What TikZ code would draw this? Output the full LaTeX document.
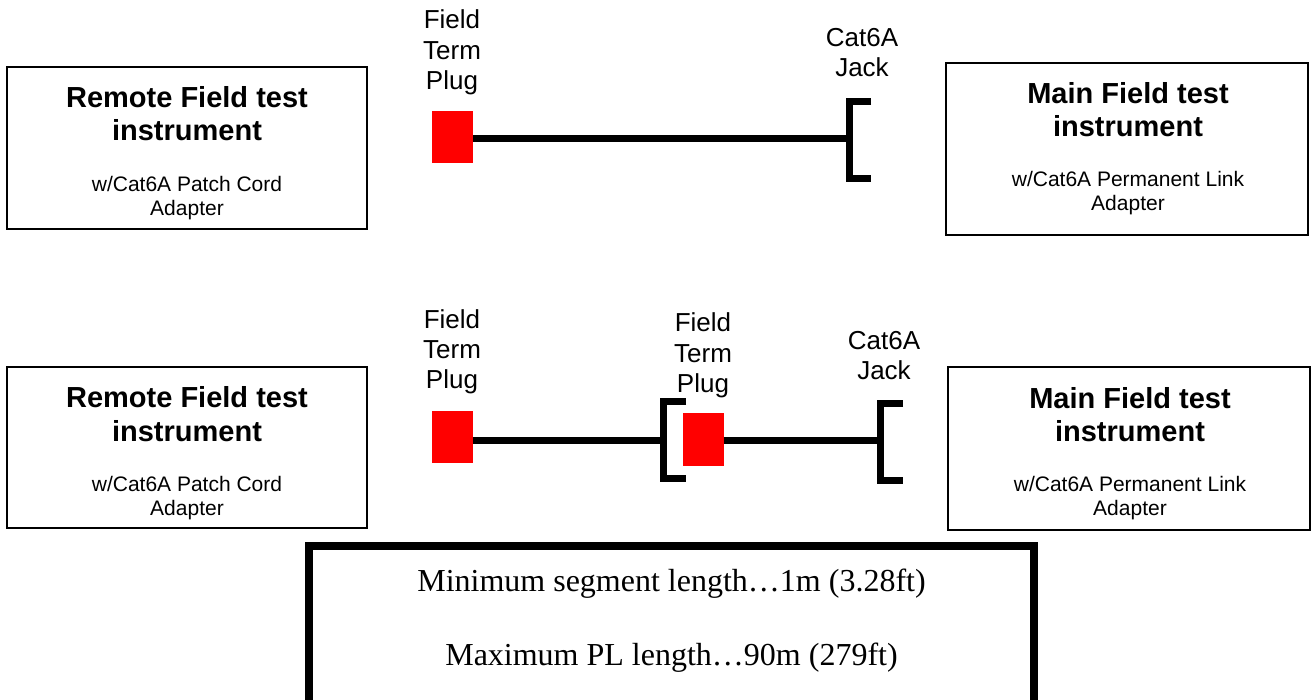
\documentclass[tikz,border=0pt]{standalone}
\usepackage{fontspec}
\setmainfont{Liberation Sans}
\newfontfamily\infofont{Liberation Serif}
\begin{document}
\begin{tikzpicture}[x=1pt,y=-1pt,
  instrbox/.style={draw=black,line width=1.6pt,inner sep=0pt},
  titletext/.style={anchor=base,align=center,font=\fontsize{29}{33}\selectfont\bfseries},
  subtext/.style={anchor=base,align=center,font=\fontsize{21}{24}\selectfont},
  labeltext/.style={anchor=base,align=center,font=\fontsize{26}{30.5}\selectfont},
  plug/.style={fill=red,draw=none,minimum width=41pt,minimum height=52pt,inner sep=0pt},
  cable/.style={line width=7pt},
  jack/.style={line width=7pt,line join=miter},
  infobox/.style={draw=black,line width=8pt},
  infotext/.style={anchor=base,font=\infofont\fontsize{32}{36}\selectfont}]
\useasboundingbox (0,0) rectangle (1312,700);
\clip (0,0) rectangle (1312,700);

% ---------- upper setup ----------
% (multi-line nodes are placed by the baseline of their last line)
\draw[instrbox] (7,67) rectangle (367,229);
\node[titletext] (rt1) at (187,141) {Remote Field test\\instrument};
\node[subtext] (rs1) at (187,216) {w/Cat6A Patch Cord\\Adapter};

\draw[instrbox] (946,63) rectangle (1308,235);
\node[titletext] (mt1) at (1128,137) {Main Field test\\instrument};
\node[subtext] (ms1) at (1128,211) {w/Cat6A Permanent Link\\Adapter};

\node[labeltext] (lp1) at (452,90) {Field\\Term\\Plug};
\node[labeltext] (lj1) at (862,77) {Cat6A\\Jack};

\node[plug] (p1) at (452.5,137) {};
\coordinate (j1) at (849,139);
\draw[cable] (p1.east |- j1) -- (j1);
\draw[jack] (871,101.5) -- (849,101.5) -- (849,178.5) -- (871,178.5);

% ---------- lower setup ----------
\draw[instrbox] (7,367) rectangle (367,528);
\node[titletext] (rt2) at (187,441) {Remote Field test\\instrument};
\node[subtext] (rs2) at (187,515) {w/Cat6A Patch Cord\\Adapter};

\draw[instrbox] (948,367) rectangle (1310,530);
\node[titletext] (mt2) at (1130,442) {Main Field test\\instrument};
\node[subtext] (ms2) at (1130,515) {w/Cat6A Permanent Link\\Adapter};

\node[labeltext] (lp2) at (452,389) {Field\\Term\\Plug};
\node[labeltext] (lp3) at (703,393) {Field\\Term\\Plug};
\node[labeltext] (lj2) at (884,380) {Cat6A\\Jack};

\node[plug] (p2) at (452.5,437) {};
\node[plug] (p3) at (703,439.5) {};
\coordinate (j2) at (663,440);
\coordinate (j3) at (880,440);
\draw[cable] (p2.east |- j2) -- (j2);
\draw[cable] (p3.east |- j3) -- (j3);
\draw[jack] (686,401.5) -- (663,401.5) -- (663,478.5) -- (686,478.5);
\draw[jack] (903,403.5) -- (880,403.5) -- (880,480) -- (903,480);

% ---------- length limits ----------
\draw[infobox] (309,546) rectangle (1034,710);
\node[infotext] (min) at (671.5,591) {Minimum segment length…1m (3.28ft)};
\node[infotext] (max) at (671.5,665) {Maximum PL length…90m (279ft)};
\end{tikzpicture}
\end{document}
